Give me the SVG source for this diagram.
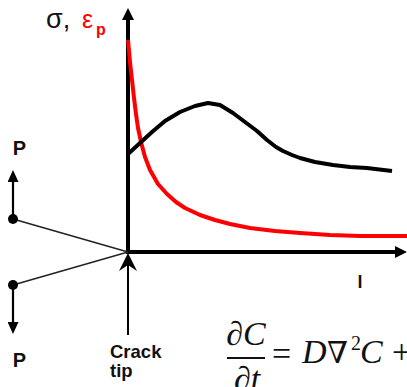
<svg xmlns="http://www.w3.org/2000/svg" width="407" height="387" viewBox="0 0 407 387">
<style>
.lbl{font-family:"Liberation Sans",Arial,sans-serif;font-weight:bold;fill:#111}
.greek{font-family:"Liberation Sans","DejaVu Sans",sans-serif}
.eq{font-family:"Liberation Serif","DejaVu Serif",serif;fill:#111}
.it{font-style:italic}
.axis{stroke:#000;stroke-width:4;fill:none}
.curve{fill:none;stroke-width:4;stroke-linejoin:round;stroke-linecap:butt}
.thin{stroke:#222;stroke-width:1.5;fill:none}
.parr{stroke:#000;stroke-width:2.2;fill:none}
</style>
<defs>
<marker id="axisHead" viewBox="0 0 12 12" refX="2" refY="6" markerWidth="12" markerHeight="12" markerUnits="userSpaceOnUse" orient="auto"><path d="M0,0 L12,6 L0,12 z" fill="#000"/></marker>
<marker id="pHead" viewBox="0 0 12 11" refX="1" refY="5.5" markerWidth="12" markerHeight="11" markerUnits="userSpaceOnUse" orient="auto"><path d="M0,0 L12,5.5 L0,11 z" fill="#000"/></marker>
</defs>

<g id="axes">
<line class="axis" x1="128" y1="254" x2="128" y2="18" marker-end="url(#axisHead)"/>
<line class="axis" x1="126" y1="252" x2="397" y2="252" marker-end="url(#axisHead)"/>
</g>

<g id="curves">
<polyline id="strain-curve" class="curve" stroke="#ff0000" points="128,40 130,62 132,80 134,98 136,114 138,128 141,142 145,157 150,170 158,184 167,194 176,202 185,208 200,215 215,220 230,224 250,228 275,231 300,233 330,235 360,236 407,236"/>
<polyline id="stress-curve" class="curve" stroke="#000" points="128,154 140,143 152,132 165,121 180,112 195,106 208,103 220,105 233,113 245,122 257,131 267,140 276,147 283,151 292,155 300,158 315,162 333,165 350,167 367,168 392,171"/>
</g>

<g id="connectors">
<line class="thin" x1="13" y1="219" x2="128" y2="252"/>
<line class="thin" x1="13" y1="285" x2="128" y2="252"/>
<line class="parr" x1="13" y1="219" x2="13" y2="181" marker-end="url(#pHead)"/>
<line class="parr" x1="13" y1="285" x2="13" y2="323" marker-end="url(#pHead)"/>
<line stroke="#000" stroke-width="2" x1="128" y1="335" x2="128" y2="264"/>
<path d="M128,253 L137,271 L128,265 L119,271 z" fill="#000"/>
</g>

<g id="load-top">
<circle cx="13" cy="219" r="5" fill="#000"/>
<text class="lbl" x="19.5" y="155" font-size="20" text-anchor="middle">P</text>
</g>
<g id="load-bottom">
<circle cx="13" cy="285" r="5" fill="#000"/>
<text class="lbl" x="19.5" y="367" font-size="20" text-anchor="middle">P</text>
</g>

<g id="crack-tip">
<text class="lbl" x="110" y="358" font-size="18.5">Crack</text>
<text class="lbl" x="110" y="377" font-size="18.5">tip</text>
</g>

<g id="y-label">
<text class="greek" x="46" y="28" font-size="27" fill="#111">σ,</text>
<text class="greek" x="82" y="28" font-size="25" fill="#ff0000">ε</text>
<text class="lbl" x="96" y="35" font-size="16" style="fill:#ff0000">p</text>
</g>

<g id="x-label">
<text class="lbl" x="360" y="288" font-size="18" text-anchor="middle">l</text>
</g>

<g id="equation">
<text class="eq it" x="246" y="345" font-size="34" text-anchor="middle">∂C</text>
<line x1="227" y1="358" x2="265" y2="358" stroke="#111" stroke-width="2"/>
<text class="eq it" x="247" y="390" font-size="34" text-anchor="middle">∂t</text>
<text class="eq" x="272" y="365" font-size="34">=</text>
<text class="eq it" x="302" y="363" font-size="34">D</text>
<text class="eq" x="327" y="363" font-size="30">∇</text>
<text class="eq" x="351" y="350" font-size="20">2</text>
<text class="eq it" x="360" y="363" font-size="34">C</text>
<text class="eq" x="392" y="363" font-size="34">+</text>
</g>
</svg>
